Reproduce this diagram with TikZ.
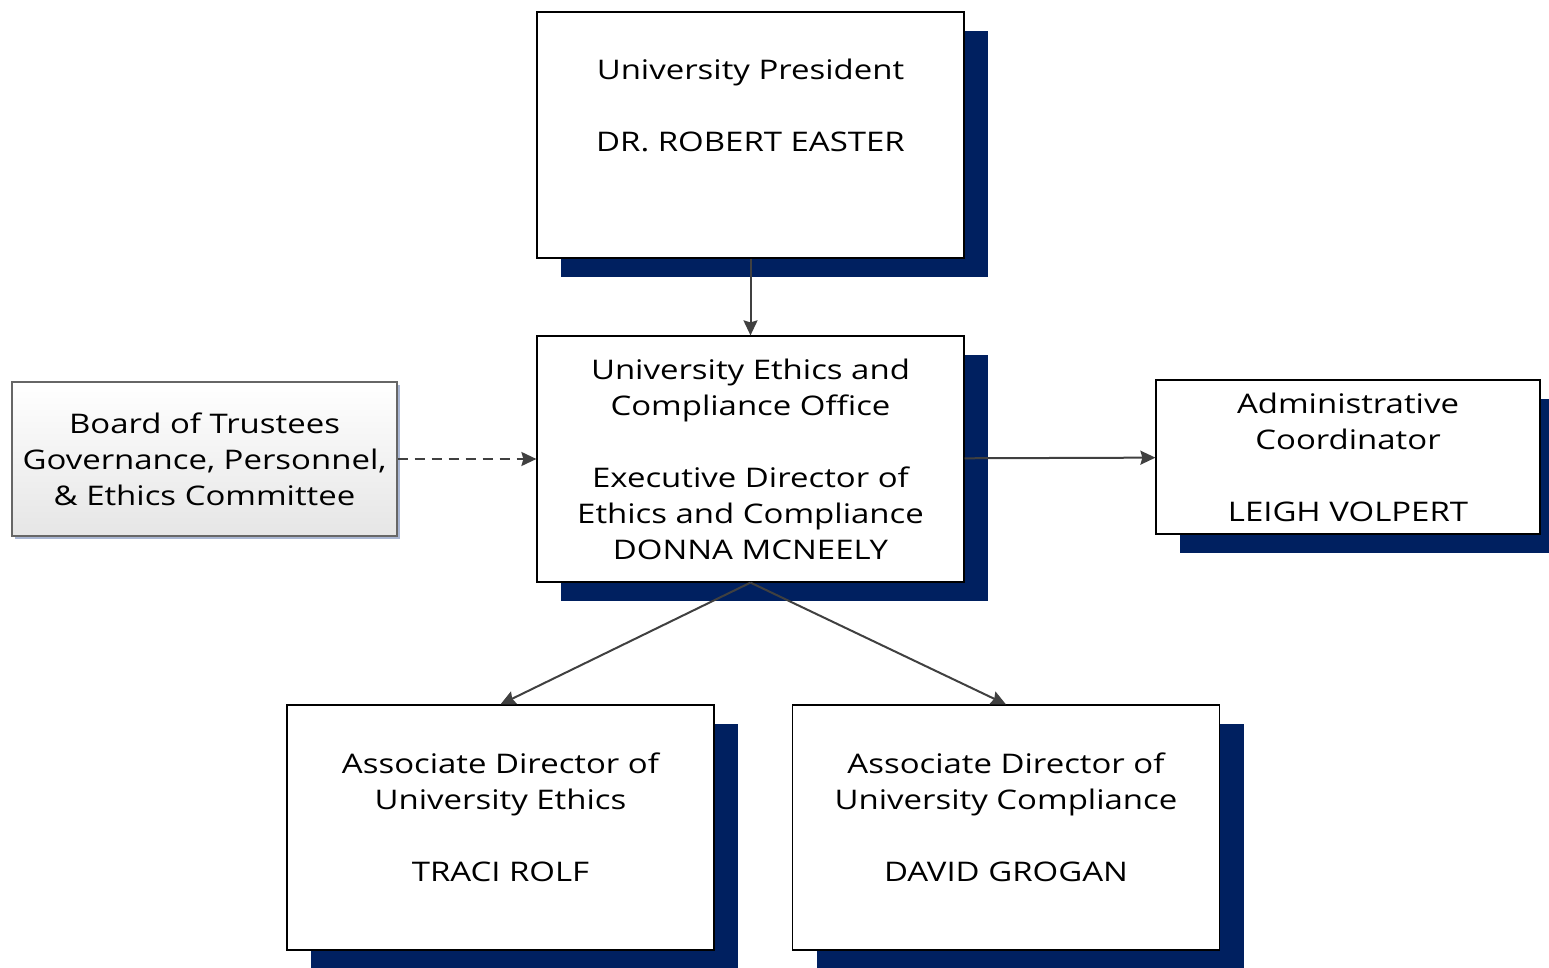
\documentclass[tikz,border=0pt]{standalone}
\usepackage{fontspec}
\setmainfont{Open Sans}[FakeStretch=1.22]
\usetikzlibrary{positioning}
\usetikzlibrary{arrows.meta,shadows}
\definecolor{navy}{HTML}{002060}
\definecolor{linegray}{HTML}{404040}
\definecolor{boardshade}{HTML}{A9B6D3}
\tikzset{
	>={Stealth[length=7.5pt,width=7pt,inset=1pt]},
	orgbox/.style={
		rectangle,
		draw=black, line width=0.6pt,
		fill=white,
		inner sep=0pt,
		minimum width=213.5pt,
		minimum height=123pt,
		align=center,
		font=\fontsize{13.5pt}{18pt}\selectfont,
		drop shadow={shadow xshift=12pt, shadow yshift=-9.5pt, fill=navy, opacity=1}},
	sidebox/.style={
		orgbox,
		minimum width=192pt,
		minimum height=77pt},
	boardbox/.style={
		rectangle,
		draw=black!60, line width=0.6pt,
		top color=white,
		bottom color=black!10,
		inner sep=0pt,
		minimum width=192.5pt,
		minimum height=77pt,
		align=center,
		font=\fontsize{13.5pt}{18pt}\selectfont,
		drop shadow={shadow xshift=1.5pt, shadow yshift=-1.5pt, fill=boardshade, opacity=1}},
	line/.style={draw=linegray, line width=1pt, ->},
	dashline/.style={line, dash pattern=on 5pt off 3.5pt},
}
\begin{document}
\begin{tikzpicture}[x=0.5pt, y=-0.5pt]
		\useasboundingbox (0,0) rectangle (1549,968);
		\node[orgbox] (pres) at (750.5,135) {University President\\[18pt]DR. ROBERT EASTER\\[11.5pt]~};
		\node[orgbox] (office) at (750.5,459) {University Ethics and\\Compliance Office\\[18pt]Executive Director of\\Ethics and Compliance\\DONNA MCNEELY};
		\node[boardbox] (board) at (204.5,459) {Board of Trustees\\Governance, Personnel,\\\& Ethics Committee};
		\node[sidebox] (coord) at (1348,457) {Administrative\\Coordinator\\[18pt]LEIGH VOLPERT};
		\node[orgbox, minimum height=122.5pt] (ethics) at (500.5,827.5) {Associate Director of\\University Ethics\\[18pt]TRACI ROLF\\[-7.5pt]~};
		\node[orgbox, minimum height=122.5pt] (compl) at (1006,827.5) {Associate Director of\\University Compliance\\[18pt]DAVID GROGAN\\[-7.5pt]~};
		% connectors
		\path[line] (pres) -- (office);
		\path[dashline] (board) -- (office);
		\path[line] (office) -- (coord);
		\path[line] (office.south) -- (ethics.north);
		\path[line] (office.south) -- (compl.north);
\end{tikzpicture}
\end{document}
